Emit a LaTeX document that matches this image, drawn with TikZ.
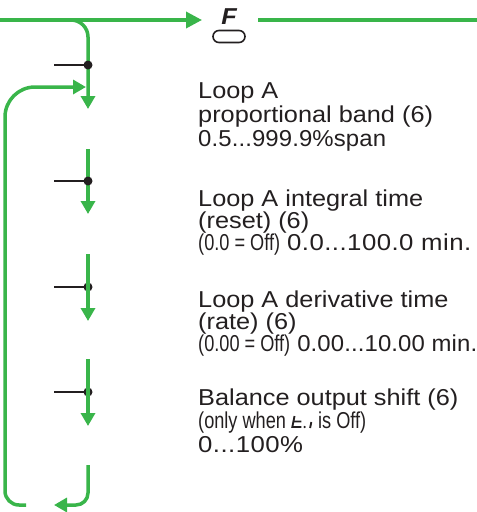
\documentclass[tikz,border=0pt]{standalone}
\usepackage{fontspec}
\setmainfont{Liberation Sans}[FakeStretch=1.1]
\newfontfamily\widefont{Liberation Sans}[FakeStretch=1.12,LetterSpace=2]
\newfontfamily\medfont{Liberation Sans}[FakeStretch=1.04,LetterSpace=0.5]
\newfontfamily\narrowfont{Liberation Sans}[FakeStretch=0.79]
\usetikzlibrary{arrows.meta}
\definecolor{grn}{HTML}{39B54A}
\definecolor{ink}{HTML}{231F20}
\newcommand{\segti}{\tikz[baseline=0pt,x=1pt,y=1pt]{%
  \draw[ink,line width=1.9pt,xslant=0.2] (1,12)--(1,1)--(10,1) (1,6.5)--(9,6.5) (19,0)--(19,6);
  \fill[ink] (13.5,1) circle (1.2pt);
  \path (0,0) rectangle (22,12);}}
\begin{document}
\begin{tikzpicture}[x=1pt,y=-1pt,
  gline/.style={grn,line width=3.5pt},
  garr/.style={grn,line width=3.5pt,-{Triangle[length=13pt,width=14pt]}},
  gbig/.style={grn,line width=3.5pt,-{Triangle[length=16pt,width=16pt]}},
  tickline/.style={ink,line width=2.2pt},
  dotnode/.style={circle,fill=ink,inner sep=0pt,minimum size=9pt},
  txt/.style={anchor=base west,inner sep=0pt,text=ink,font=\fontsize{23}{23}\selectfont},
]
\useasboundingbox (0,0) rectangle (477,512);

% top line and function key
\coordinate (tl) at (0,20);
\coordinate (ain) at (202,20);
\coordinate (aout) at (258,20);
\coordinate (tr) at (477,20);
\node[anchor=base,inner sep=0pt,text=ink,font=\fontsize{23}{23}\selectfont\bfseries\itshape] (F) at (229,24.5) {F};
\node[draw=ink,line width=1.6pt,rounded corners=6pt,minimum width=32pt,minimum height=12pt,inner sep=0pt] (key) at (229,36.5) {};
\draw[gbig] (tl) -- (ain);
\draw[gline] (aout) -- (tr);

% dots behind green lines (3,4)
\coordinate (k3) at (54,287);
\coordinate (k4) at (54,392);
\node[dotnode] (d3) at (88,287) {};
\node[dotnode] (d4) at (88,392) {};
\draw[tickline] (k3) -- (d3.center);
\draw[tickline] (k4) -- (d4.center);

% green chain
\coordinate (s1a) at (60,20);
\coordinate (s1b) at (88,109);
\draw[garr,rounded corners=17pt] (s1a) -| (s1b);
\coordinate (s2a) at (88,149);
\coordinate (s2b) at (88,214);
\draw[garr] (s2a) -- (s2b);
\coordinate (s3a) at (88,254);
\coordinate (s3b) at (88,321);
\draw[garr] (s3a) -- (s3b);
\coordinate (s4a) at (88,359);
\coordinate (s4b) at (88,426);
\draw[garr] (s4a) -- (s4b);
\coordinate (s5a) at (88,465);
\coordinate (s5b) at (54,505);
\draw[garr,rounded corners=12pt] (s5a) |- (s5b);
% return loop
\coordinate (lpa) at (26,505);
\coordinate (lpb) at (86,87);
\draw[garr] (lpa) [rounded corners=14pt] -- (5,505) -- (5,300) [rounded corners=30pt] -- (5,87) -- (lpb);

% dots on top (1,2)
\coordinate (k1) at (54,65);
\coordinate (k2) at (54,181);
\node[dotnode] (d1) at (88,65) {};
\node[dotnode] (d2) at (88,181) {};
\draw[tickline] (k1) -- (d1.center);
\draw[tickline] (k2) -- (d2.center);

% texts
\node[txt] (t11) at (198,98) {Loop A};
\node[txt] (t12) at (198,122) {proportional band (6)};
\node[txt] (t13) at (198,146) {\medfont 0.5...999.9\%span};

\node[txt] (t21) at (198,206) {Loop A integral time};
\node[txt] (t22) at (198,228) {(reset) (6)};
\node[txt] (t23) at (198,250) {{\narrowfont (0.0 = Off)} {\widefont 0.0...100.0 min.}};

\node[txt] (t31) at (198,307) {Loop A derivative time};
\node[txt] (t32) at (198,329) {(rate) (6)};
\node[txt] (t33) at (198,351) {{\narrowfont (0.00 = Off)} {\medfont 0.00...10.00 min.}};

\node[txt] (t41) at (198,405) {Balance output shift (6)};
\node[txt] (t42) at (198,428) {\narrowfont (only when \segti\ is Off)};
\node[txt] (t43) at (198,452) {\widefont 0...100\%};
\end{tikzpicture}
\end{document}
